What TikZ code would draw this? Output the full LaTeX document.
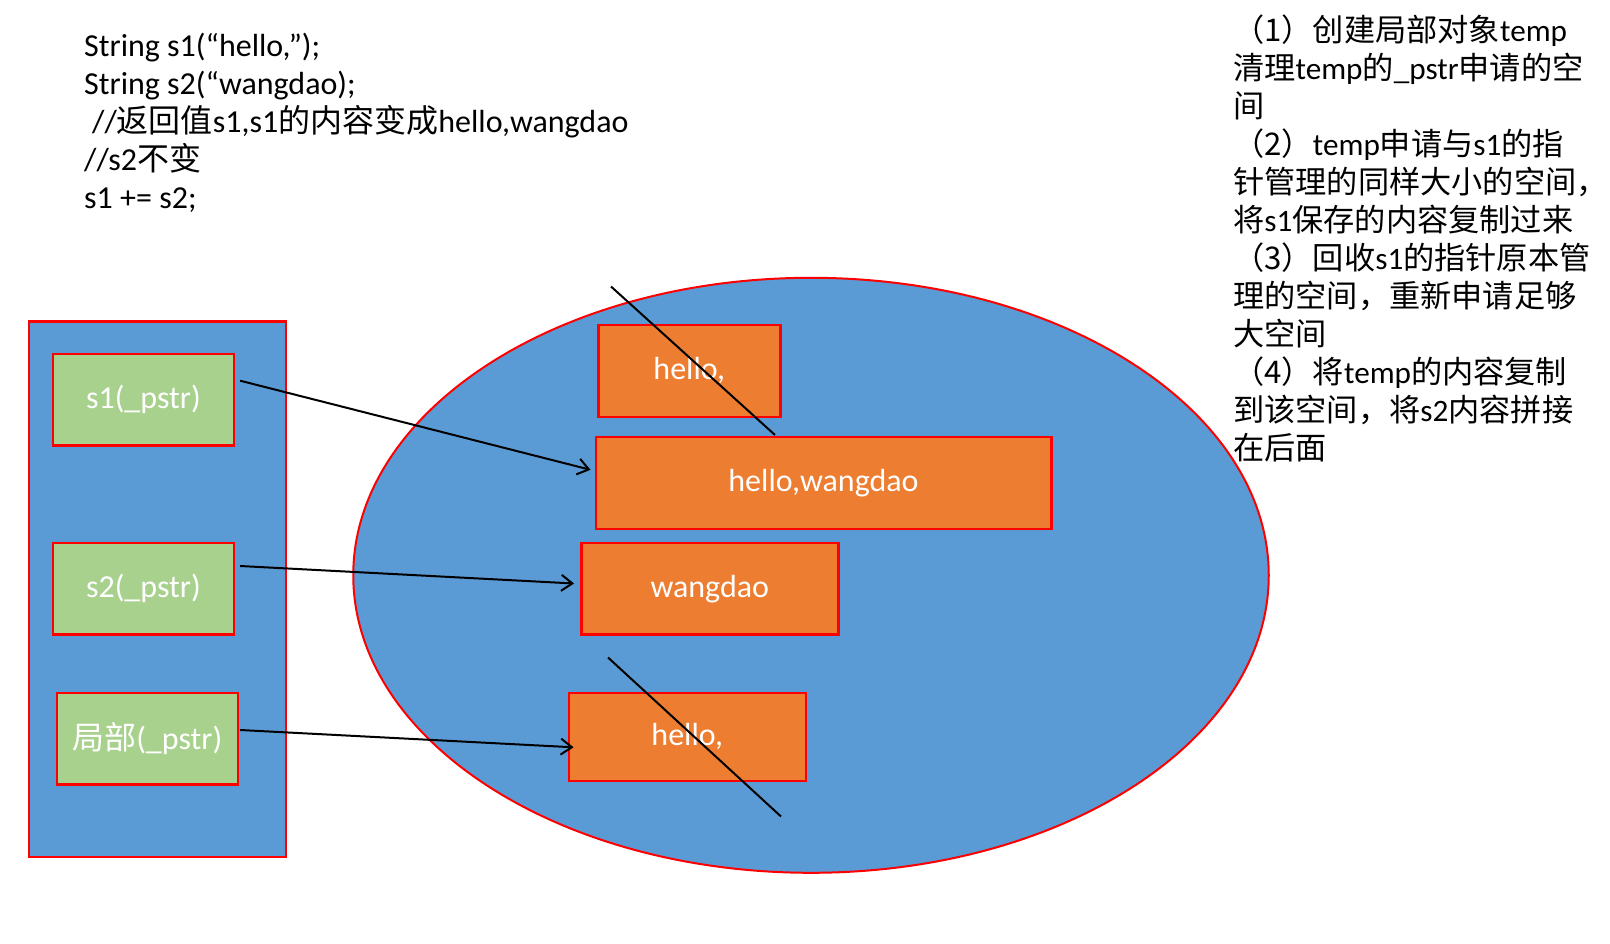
\documentclass[tikz,border=0pt]{standalone}
\usepackage{fontspec}
\setmainfont{Carlito}
\newfontfamily\cjk{Noto Sans CJK SC}
\usetikzlibrary{shapes.geometric,arrows.meta}
\definecolor{memblue}{HTML}{5B9BD5}
\definecolor{ptrgreen}{HTML}{A9D18E}
\definecolor{blkorange}{HTML}{ED7D31}

\begin{document}
\begin{tikzpicture}[x=1pt,y=-1pt,
    frame/.style={draw=red,line width=2.5pt,inner sep=0pt,text=white,font=\fontsize{32}{38}\selectfont},
    ptr/.style={frame,fill=ptrgreen,minimum width=181pt,minimum height=91.5pt},
    blk/.style={frame,fill=blkorange,minimum height=92pt},
    link/.style={-{Straight Barb[length=11pt,width=16pt]},line width=2pt},
    cross/.style={line width=2pt}]
            \useasboundingbox (0,0) rectangle (1610,944);

            \node[draw=red,fill=memblue,line width=2.5pt,inner sep=0pt,minimum width=257pt,minimum height=535.5pt] (stack) at (157.5,589) {};
            \node[shape=ellipse,draw=red,fill=memblue,line width=2pt,inner sep=0pt,minimum width=915.5pt,minimum height=595pt] (heap) at (811,575.3) {};

            \node[ptr] (s1) at (143.4,399.7) {s1(\_pstr)};
            \node[ptr] (s2) at (143.4,588.7) {s2(\_pstr)};
            \node[ptr] (local) at (147.3,738.5) {{\cjk 局部}(\_pstr)};

            \node[blk,minimum width=182pt] (hello) at (689.3,370.8) {hello,};
            \node[blk,minimum width=455.5pt] (joined) at (823.5,482.8) {hello,wangdao};
            \node[blk,minimum width=257pt,minimum height=91.5pt] (wangdao) at (709.8,588.7) {wangdao};
            \node[blk,minimum width=237pt,minimum height=88pt] (temp) at (687.3,736.8) {hello,};

            \coordinate (cut1a) at (611,286.5);
            \coordinate (cut1b) at (775,435);
            \coordinate (cut2a) at (608,657.5);
            \coordinate (cut2b) at (781,816.5);
            \draw[cross] (cut1a) -- (cut1b);
            \draw[cross] (cut2a) -- (cut2b);

            \draw[link] ([xshift=5pt,yshift=19pt]s1.east) -- ([xshift=-4pt,yshift=13pt]joined.west);
            \draw[link] ([xshift=5pt,yshift=22.7pt]s2.east) -- ([xshift=-6pt,yshift=5.2pt]wangdao.west);
            \draw[link] ([xshift=1pt,yshift=8.5pt]local.east) -- ([xshift=6pt,yshift=-10.5pt]temp.west);

            \node[anchor=north west,inner sep=0pt,align=left,font=\fontsize{32}{38}\selectfont] (code) at (84,33)
                {String s1(“hello,”);\\
                 String s2(“wangdao);\\
                 \hspace*{8pt}//{\cjk 返回值}s1,s1{\cjk 的内容变成}hello,wangdao\\
                 //s2{\cjk 不变}\\
                 s1 += s2;};
            \node[anchor=north west,inner sep=0pt,align=left,font=\fontsize{31.2}{38}\selectfont] (steps) at (1233,15)
                {{\cjk （1）创建局部对象}temp\\
                 {\cjk 清理}temp{\cjk 的}\_pstr{\cjk 申请的空}\\
                 {\cjk 间}\\
                 {\cjk （2）}temp{\cjk 申请与}s1{\cjk 的指}\\
                 {\cjk 针管理的同样大小的空间，}\\
                 {\cjk 将}s1{\cjk 保存的内容复制过来}\\
                 {\cjk （3）回收}s1{\cjk 的指针原本管}\\
                 {\cjk 理的空间，重新申请足够}\\
                 {\cjk 大空间}\\
                 {\cjk （4）将}temp{\cjk 的内容复制}\\
                 {\cjk 到该空间，将}s2{\cjk 内容拼接}\\
                 {\cjk 在后面}};
        \end{tikzpicture}
\end{document}
